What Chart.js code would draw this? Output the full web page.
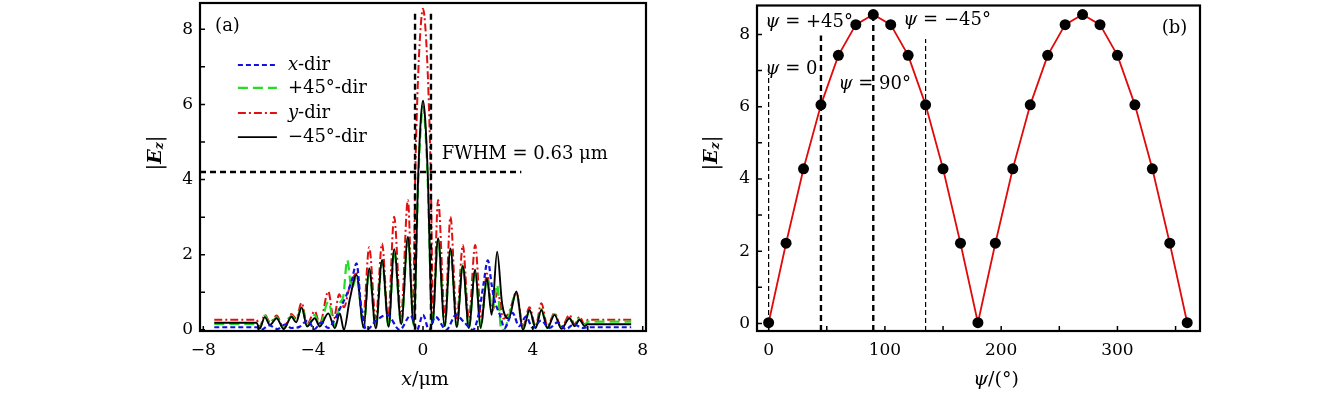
<!DOCTYPE html>
<html>
<head>
<meta charset="utf-8">
<script src="https://cdn.jsdelivr.net/npm/chart.js@4.4.1/dist/chart.umd.min.js"></script>
<style>
body { margin: 0; background: #fff; width: 1339px; height: 394px; position: relative; overflow: hidden; }
canvas { position: absolute; top: 0; }
#chartA { left: 0; }
#chartB { left: 680px; }
</style>
</head>
<body>
<canvas id="chartA" width="670" height="394"></canvas>
<canvas id="chartB" width="659" height="394"></canvas>
<script>
// ---- panel (a): |Ez| along four directions ----
const xDirX = [-7.6, -6.06, -5.9, -5.6, -5.3, -5.0, -4.8, -4.5, -4.2, -3.95, -3.7, -3.45, -3.2, -3.0, -2.8, -2.6, -2.42, -2.25, -2.06, -1.7, -1.3, -0.85, -0.45, -0.22, 0, 0.22, 0.45, 0.85, 1.2, 1.5, 1.82, 2.05, 2.2, 2.36, 2.5, 2.6, 2.8, 2.97, 3.26, 3.5, 3.75, 4.0, 4.3, 4.6, 4.9, 5.2, 5.5, 5.8, 6.0, 7.58];
const xDirY = [0.07, 0.07, 0.0, 0.12, 0.02, 0.15, 0.05, 0.08, 0.25, 0.02, 0.2, 0.05, 0.3, 0.6, 0.9, 1.3, 1.77, 0.6, 0.0, 0.25, 0.4, 0.0, 0.38, 0.0, 0.4, 0.0, 0.35, 0.0, 0.4, 0.2, 0.0, 0.5, 1.2, 1.85, 1.2, 0.8, 0.4, 0.05, 0.45, 0.1, 0.35, 0.05, 0.25, 0.05, 0.2, 0.02, 0.15, 0.05, 0.07, 0.07];

const plus45X = [-7.6, -6.06, -5.95, -5.76, -5.57, -5.33, -5.07, -4.79, -4.62, -4.42, -4.22, -3.94, -3.76, -3.45, -3.21, -3.03, -2.9, -2.76, -2.6, -2.42, -2.16, -1.96, -1.72, -1.49, -1.25, -1.05, -0.79, -0.55, -0.34, -0.17, -0.08, 0, 0.08, 0.17, 0.34, 0.55, 0.79, 1.0, 1.23, 1.45, 1.67, 1.9, 2.1, 2.33, 2.52, 2.7, 2.85, 2.95, 3.12, 3.4, 3.64, 3.88, 4.1, 4.31, 4.53, 4.79, 5.04, 5.33, 5.52, 5.7, 5.88, 6.0, 7.58];
const plus45Y = [0.16, 0.16, 0.05, 0.38, 0.15, 0.33, 0.03, 0.38, 0.25, 0.62, 0.1, 0.4, 0.1, 0.75, 0.1, 0.7, 0.9, 1.86, 1.1, 1.4, 0.06, 1.6, 0.04, 1.8, 0.08, 2.1, 0.12, 2.45, 0.12, 4.0, 5.4, 5.95, 5.4, 4.0, 0.12, 2.4, 0.1, 2.1, 0.08, 1.75, 0.05, 1.58, 0.05, 1.35, 0.5, 1.2, 0.0, 0.0, 0.35, 0.98, 0.02, 0.5, 0.05, 0.55, 0.05, 0.42, 0.05, 0.32, 0.1, 0.3, 0.12, 0.22, 0.22];

const yDirX = [-7.6, -6.06, -5.95, -5.76, -5.57, -5.33, -5.07, -4.79, -4.62, -4.42, -4.22, -3.94, -3.76, -3.45, -3.25, -3.05, -2.88, -2.67, -2.42, -2.18, -1.96, -1.72, -1.49, -1.27, -1.05, -0.8, -0.55, -0.37, -0.28, -0.2, -0.1, 0, 0.1, 0.2, 0.28, 0.37, 0.55, 0.8, 1.0, 1.23, 1.45, 1.67, 1.9, 2.12, 2.33, 2.52, 2.72, 2.92, 3.15, 3.4, 3.64, 3.88, 4.1, 4.31, 4.53, 4.79, 5.04, 5.33, 5.52, 5.7, 5.88, 6.0, 7.58];
const yDirY = [0.27, 0.27, 0.08, 0.4, 0.2, 0.38, 0.05, 0.42, 0.3, 0.72, 0.15, 0.5, 0.15, 1.02, 0.3, 0.95, 0.6, 1.15, 1.5, 0.3, 2.2, 0.3, 2.3, 0.3, 3.01, 0.35, 3.46, 0.4, 4.2, 6.3, 7.9, 8.55, 7.9, 6.3, 4.2, 0.4, 3.46, 0.35, 3.01, 0.3, 2.26, 0.3, 2.26, 0.3, 1.5, 0.5, 1.0, 0.3, 0.5, 1.0, 0.1, 0.6, 0.1, 0.71, 0.1, 0.45, 0.05, 0.4, 0.15, 0.35, 0.15, 0.27, 0.27];

const minus45X = [-7.6, -6.06, -5.95, -5.76, -5.57, -5.33, -5.07, -4.79, -4.62, -4.42, -4.22, -3.94, -3.76, -3.45, -3.21, -3.03, -2.88, -2.67, -2.42, -2.16, -1.96, -1.72, -1.49, -1.25, -1.05, -0.79, -0.55, -0.34, -0.17, -0.08, 0, 0.08, 0.17, 0.34, 0.55, 0.79, 1.0, 1.23, 1.45, 1.67, 1.9, 2.1, 2.33, 2.5, 2.7, 2.88, 3.12, 3.4, 3.64, 3.88, 4.1, 4.31, 4.53, 4.79, 5.04, 5.33, 5.52, 5.7, 5.88, 6.0, 7.58];
const minus45Y = [0.19, 0.19, 0.03, 0.34, 0.13, 0.31, 0.02, 0.35, 0.2, 0.6, 0.09, 0.31, 0.09, 0.44, 0.05, 0.44, 0.0, 0.8, 1.46, 0.06, 1.64, 0.04, 1.86, 0.08, 2.15, 0.15, 2.48, 0.15, 4.2, 5.6, 6.1, 5.6, 4.2, 0.15, 2.44, 0.1, 2.17, 0.08, 1.7, 0.05, 1.6, 0.05, 1.37, 0.4, 2.08, 0.7, 0.3, 1.02, 0.0, 0.53, 0.05, 0.53, 0.05, 0.4, 0.03, 0.31, 0.1, 0.27, 0.1, 0.15, 0.15];

const fwhmLeft = -0.29, fwhmRight = 0.29, fwhmTop = 8.51;
const halfMax = 4.2, halfMaxEnd = 3.58;
const xTicksA = [-8, -4, 0, 4, 8];
const xMinorA = [-8, -6, -4, -2, 0, 2, 4, 6, 8];
const yTicksA = [0, 2, 4, 6, 8];

// ---- panel (b): peak |Ez| vs polarisation angle ----
const psiDeg = [0, 15, 30, 45, 60, 75, 90, 105, 120, 135, 150, 165, 180, 195, 210, 225, 240, 255, 270, 285, 300, 315, 330, 345, 360];
const peakField = [0.02, 2.22, 4.28, 6.05, 7.42, 8.27, 8.55, 8.27, 7.42, 6.05, 4.28, 2.22, 0.02, 2.22, 4.28, 6.05, 7.42, 8.27, 8.55, 8.27, 7.42, 6.05, 4.28, 2.22, 0.02];
const markPsi = [0, 45, 90, 135];
const markTop = [6.91, 7.97, 8.56, 7.87];
const xTicksB = [0, 100, 200, 300];
const xMinorB = [0, 50, 100, 150, 200, 250, 300, 350];
const yTicksB = [0, 2, 4, 6, 8];

const SERIF = "'DejaVu Serif', 'Liberation Serif', serif";

const pts = (xs, ys) => xs.map((x, i) => ({ x: x, y: ys[i] }));

function drawRuns(ctx, x, y, runs, align) {
    let w = 0;
    runs.forEach(r => { ctx.font = r.font; w += ctx.measureText(r.text).width; });
    let cx = align === 'center' ? x - w / 2 : (align === 'right' ? x - w : x);
    ctx.textAlign = 'left';
    ctx.textBaseline = 'middle';
    runs.forEach(r => {
        ctx.font = r.font;
        ctx.fillText(r.text, cx, y + (r.dy || 0));
        cx += ctx.measureText(r.text).width;
    });
}

const reg = s => s + 'px ' + SERIF;
const ital = s => 'italic ' + s + 'px ' + SERIF;
const boldItal = s => 'italic bold ' + s + 'px ' + SERIF;

function ezTitle(ctx, x, y) {
    ctx.save();
    ctx.translate(x, y);
    ctx.rotate(-Math.PI / 2);
    ctx.fillStyle = '#000';
    drawRuns(ctx, 0, 0, [
        { text: '|', font: reg(20) },
        { text: 'E', font: boldItal(19) },
        { text: 'z', font: boldItal(12), dy: 4 },
        { text: '|', font: reg(20) }
    ], 'center');
    ctx.restore();
}

// frame, inward ticks and texts
function framePlugin(opts) {
    return {
        id: 'frame',
        afterDatasetsDraw(chart) {
            const ctx = chart.ctx, a = chart.chartArea, sx = chart.scales.x, sy = chart.scales.y;
            ctx.save();
            ctx.setLineDash([]);
            ctx.strokeStyle = '#000';
            ctx.lineWidth = 1.5;
            ctx.beginPath();
            opts.xMinor.forEach(v => {
                const px = sx.getPixelForValue(v);
                ctx.moveTo(px, a.bottom); ctx.lineTo(px, a.bottom - 5);
            });
            for (let v = 0; v <= 8; v++) {
                const py = sy.getPixelForValue(v);
                ctx.moveTo(a.left, py); ctx.lineTo(a.left + 5, py);
            }
            ctx.stroke();
            ctx.lineWidth = 2.2;
            ctx.strokeRect(a.left, a.top, a.right - a.left, a.bottom - a.top);
            ctx.fillStyle = '#000';
            opts.draw(ctx, chart, sx, sy);
            ctx.restore();
        }
    };
}

function baseScales(xMin, xMax, yMin, yMax, xTicks, yTicks, yWidth) {
    const tickFont = { family: SERIF, size: 17 };
    return {
        x: {
            type: 'linear', min: xMin, max: xMax,
            grid: { display: false, drawTicks: false },
            border: { display: false },
            ticks: { font: tickFont, color: '#000', padding: 9, maxRotation: 0,
                     callback: v => (v < 0 ? '\u2212' + Math.abs(v) : String(v)) },
            afterBuildTicks: s => { s.ticks = xTicks.map(v => ({ value: v })); },
            afterFit: s => { s.height = 63; s.paddingLeft = 0; s.paddingRight = 0; }
        },
        y: {
            type: 'linear', min: yMin, max: yMax,
            grid: { display: false, drawTicks: false },
            border: { display: false },
            ticks: { font: tickFont, color: '#000', padding: 7 },
            afterBuildTicks: s => { s.ticks = yTicks.map(v => ({ value: v })); },
            afterFit: s => { s.width = yWidth; s.paddingTop = 0; s.paddingBottom = 0; }
        }
    };
}

const styleA = {
    xDir:   { color: '#1010e0', dash: [5, 3], width: 2.2 },
    plus45: { color: '#22dd22', dash: [10, 5], width: 2.2 },
    yDir:   { color: '#e01010', dash: [8, 3, 2, 3], width: 2 },
    minus45:{ color: '#000000', dash: [], width: 1.9 }
};

function lineSet(data, st) {
    return { data: data, borderColor: st.color, borderDash: st.dash, borderWidth: st.width,
             pointRadius: 0, cubicInterpolationMode: 'monotone', fill: false };
}

const refA = { borderColor: '#000', borderDash: [6, 4], borderWidth: 2.4, pointRadius: 0, tension: 0, fill: false };

// first dataset is drawn on top
new Chart(document.getElementById('chartA'), {
    type: 'line',
    data: {
        datasets: [
            Object.assign({ data: [{ x: fwhmLeft, y: 0 }, { x: fwhmLeft, y: fwhmTop }] }, refA),
            Object.assign({ data: [{ x: fwhmRight, y: 0 }, { x: fwhmRight, y: fwhmTop }] }, refA),
            Object.assign({ data: [{ x: -8.12, y: halfMax }, { x: halfMaxEnd, y: halfMax }] }, refA),
            lineSet(pts(xDirX, xDirY), styleA.xDir),
            lineSet(pts(minus45X, minus45Y), styleA.minus45),
            lineSet(pts(plus45X, plus45Y), styleA.plus45),
            lineSet(pts(yDirX, yDirY), styleA.yDir)
        ]
    },
    options: {
        responsive: false, animation: false, events: [],
        layout: { padding: { top: 3, right: 24, left: 0, bottom: 0 } },
        plugins: { legend: { display: false }, tooltip: { enabled: false } },
        scales: baseScales(-8.12, 8.12, -0.03, 8.7, xTicksA, yTicksA, 200)
    },
    plugins: [framePlugin({
        xMinor: xMinorA,
        draw(ctx, chart, sx, sy) {
            drawRuns(ctx, sx.getPixelForValue(-7.57), sy.getPixelForValue(8.09), [{ text: '(a)', font: reg(18) }], 'left');
            // legend
            const rows = [
                { st: styleA.xDir, y: 7.05, runs: [{ text: 'x', font: ital(18) }, { text: '-dir', font: reg(18) }] },
                { st: styleA.plus45, y: 6.44, runs: [{ text: '+45\u00b0-dir', font: reg(18) }] },
                { st: styleA.yDir, y: 5.77, runs: [{ text: 'y', font: ital(18) }, { text: '-dir', font: reg(18) }] },
                { st: styleA.minus45, y: 5.13, runs: [{ text: '\u221245\u00b0-dir', font: reg(18) }] }
            ];
            const x0 = sx.getPixelForValue(-6.74), x1 = sx.getPixelForValue(-5.32), xt = sx.getPixelForValue(-4.92);
            rows.forEach(r => {
                const py = sy.getPixelForValue(r.y);
                ctx.save();
                ctx.strokeStyle = r.st.color; ctx.lineWidth = r.st.width; ctx.setLineDash(r.st.dash);
                ctx.beginPath(); ctx.moveTo(x0, py); ctx.lineTo(x1, py); ctx.stroke();
                ctx.restore();
                drawRuns(ctx, xt, py, r.runs, 'left');
            });
            drawRuns(ctx, sx.getPixelForValue(0.68), sy.getPixelForValue(4.68),
                [{ text: 'FWHM = 0.63 \u03bcm', font: reg(18) }], 'left');
            // axis titles
            ezTitle(ctx, 156, 153);
            drawRuns(ctx, 425, 380, [{ text: 'x', font: ital(19) }, { text: '/\u03bcm', font: reg(19) }], 'center');
        }
    })]
});

const refB = w => ({ borderColor: '#000', borderDash: w > 1.5 ? [6, 4] : [5, 3], borderWidth: w,
                     pointRadius: 0, tension: 0, fill: false });
const markWidth = [1.2, 2.4, 2.4, 1.2];

new Chart(document.getElementById('chartB'), {
    type: 'line',
    data: {
        datasets: [
            { data: pts(psiDeg, peakField), borderColor: '#e00a0a', borderWidth: 1.8, tension: 0,
              pointRadius: 5.5, pointBackgroundColor: '#000', pointBorderColor: '#000', pointBorderWidth: 0, fill: false }
        ].concat(markPsi.map((p, i) => Object.assign(
            { data: [{ x: p, y: -0.21 }, { x: p, y: markTop[i] }] }, refB(markWidth[i]))))
    },
    options: {
        responsive: false, animation: false, events: [],
        layout: { padding: { top: 3, right: 139, left: 0, bottom: 0 } },
        plugins: { legend: { display: false }, tooltip: { enabled: false } },
        scales: baseScales(-10, 371, -0.21, 8.8, xTicksB, yTicksB, 77)
    },
    plugins: [framePlugin({
        xMinor: xMinorB,
        draw(ctx, chart, sx, sy) {
            const psi = [{ text: '\u03c8', font: ital(18) }];
            const lab = (t) => psi.concat([{ text: t, font: reg(18) }]);
            drawRuns(ctx, sx.getPixelForValue(-2.8), sy.getPixelForValue(8.33), lab(' = +45\u00b0'), 'left');
            drawRuns(ctx, sx.getPixelForValue(115.8), sy.getPixelForValue(8.39), lab(' = \u221245\u00b0'), 'left');
            drawRuns(ctx, sx.getPixelForValue(-2.8), sy.getPixelForValue(7.04), lab(' = 0'), 'left');
            drawRuns(ctx, sx.getPixelForValue(60), sy.getPixelForValue(6.63), lab(' = 90\u00b0'), 'left');
            drawRuns(ctx, sx.getPixelForValue(360), sy.getPixelForValue(8.17), [{ text: '(b)', font: reg(18) }], 'right');
            ezTitle(ctx, 32, 153);
            drawRuns(ctx, 316, 380, [{ text: '\u03c8', font: ital(19) }, { text: '/(\u00b0)', font: reg(19) }], 'center');
        }
    })]
});
</script>
</body>
</html>
